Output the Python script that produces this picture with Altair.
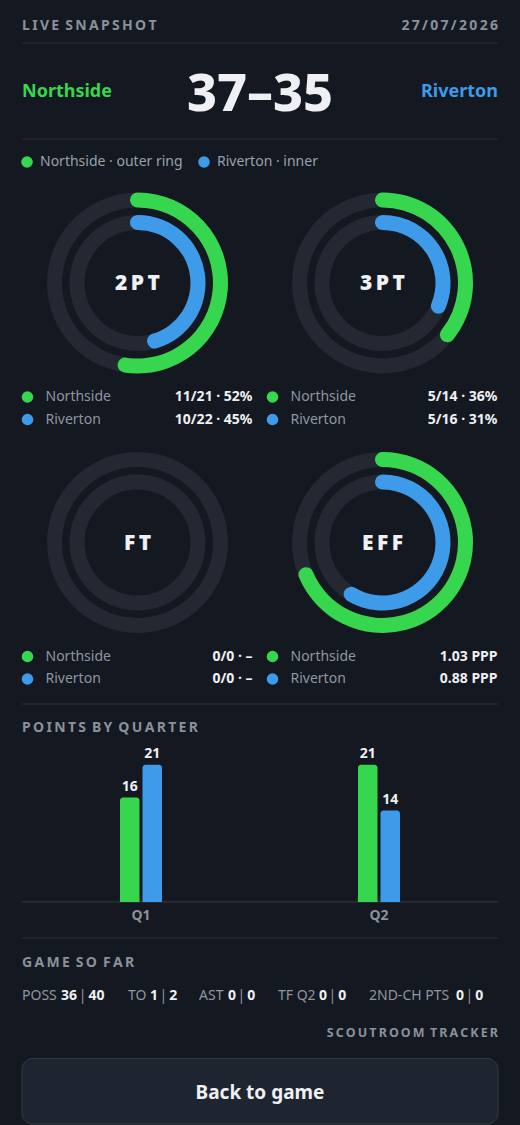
import math
import altair as alt
import pandas as pd

# ---------------- data ----------------
teams = ["Northside", "Riverton"]
home_score = 37
away_score = 35
snapshot_date = "27/07/2026"

panels = ["2PT", "3PT", "FT", "EFF"]
made_north = [11, 5, 0]
att_north = [21, 14, 0]
made_river = [10, 5, 0]
att_river = [22, 16, 0]
ppp_north = 1.03
ppp_river = 0.88
ppp_max = 1.5

quarters = ["Q1", "Q2"]
q_north = [16, 21]
q_river = [21, 14]

stat_labels = ["POSS", "TO", "AST", "TF Q2", "2ND-CH PTS"]
stat_north = [36, 1, 0, 0, 0]
stat_river = [40, 2, 0, 0, 0]

# ---------------- style ----------------
W, H = 520, 1125
BG = "#141820"
TRACK = "#232833"
GREEN = "#36d74f"
BLUE = "#3e9be9"
HEAD = "#8a919b"
GREY = "#8f96a0"
LEG = "#9aa1ab"
WHITE = "#eef0f3"
RULE = "#2a2f38"
BTN = "#1f2530"
BTN_STROKE = "#343a44"
FONT = "Noto Sans"
TS = "\u2009"  # thin space for letter spacing
DOT = 135


def spaced(s):
    return (" " + TS).join(TS.join(list(w)) for w in s.split(" "))


def px(f):
    return alt.X(f"{f}:Q", scale=alt.Scale(domain=[0, W], range=[0, W]), axis=None)


def py(f):
    return alt.Y(f"{f}:Q", scale=alt.Scale(domain=[0, H], range=[0, H]), axis=None)


def px2(f):
    return alt.X2(f"{f}:Q")


def py2(f):
    return alt.Y2(f"{f}:Q")


def txt(rows, size, weight="normal", align="left", dy=0):
    df = pd.DataFrame(rows, columns=["x", "y", "text", "color"])
    return alt.Chart(df).mark_text(
        align=align, baseline="middle", fontSize=size, fontWeight=weight,
        font=FONT, dy=dy
    ).encode(x=px("x"), y=py("y"), text="text:N",
             color=alt.Color("color:N", scale=None))


layers = []

# ---------------- header ----------------
L, R, C = 22, 498, 260
layers.append(txt([(L, 26, spaced("LIVE SNAPSHOT"), HEAD)], 14, "bold"))
layers.append(txt([(R, 26, spaced(snapshot_date), HEAD)], 14, "bold", align="right"))
layers.append(txt([(L, 92, teams[0], GREEN)], 18, "bold"))
layers.append(txt([(R, 92, teams[1], BLUE)], 18, "bold", align="right"))
layers.append(txt([(C, 95, f"{home_score}\u2013{away_score}", WHITE)], 52, 800, align="center"))

rules = pd.DataFrame({"y": [43, 139, 704, 938]})
rules["x"] = L
rules["x2"] = R
layers.append(alt.Chart(rules).mark_rule(color=RULE, strokeWidth=1).encode(
    x=px("x"), x2=px2("x2"), y=py("y")))

# legend
leg_dots = pd.DataFrame({"x": [27, 204], "y": [162, 162], "color": [GREEN, BLUE]})
layers.append(alt.Chart(leg_dots).mark_circle(size=DOT, opacity=1).encode(
    x=px("x"), y=py("y"), color=alt.Color("color:N", scale=None)))
layers.append(txt([(40, 162, f"{teams[0]} \u00b7 outer ring", LEG),
                   (217, 162, f"{teams[1]} \u00b7 inner", LEG)], 14))

# ---------------- rings ----------------
panel_left = [22, 267, 22, 267]
ring_cy = [283, 283, 542.5, 542.5]
OUT_R1, OUT_R0 = 90.5, 75.5
IN_R1, IN_R0 = 68, 53

fr_n = [m / a if a else 0 for m, a in zip(made_north, att_north)] + [ppp_north / ppp_max]
fr_r = [m / a if a else 0 for m, a in zip(made_river, att_river)] + [ppp_river / ppp_max]


def fmt(m, a):
    return f"{m}/{a} \u00b7 {round(100 * m / a)}%" if a else f"{m}/{a} \u00b7 \u2013"


val_n = [fmt(m, a) for m, a in zip(made_north, att_north)] + [f"{ppp_north:.2f} PPP"]
val_r = [fmt(m, a) for m, a in zip(made_river, att_river)] + [f"{ppp_river:.2f} PPP"]

track_rows = []
for i in range(4):
    track_rows.append((panel_left[i] + 115.5, ring_cy[i], 0, 2 * math.pi))
tracks = pd.DataFrame(track_rows, columns=["x", "y", "t0", "t1"])
for r1, r0 in [(OUT_R1, OUT_R0), (IN_R1, IN_R0)]:
    layers.append(alt.Chart(tracks).mark_arc(radius=r1, radius2=r0, color=TRACK).encode(
        x=px("x"), y=py("y"),
        theta=alt.Theta("t0:Q", scale=None, stack=None), theta2=alt.Theta2("t1:Q")))

for fr, r1, r0, col in [(fr_n, OUT_R1, OUT_R0, GREEN), (fr_r, IN_R1, IN_R0, BLUE)]:
    cap = ((r1 - r0) / 2) / ((r1 + r0) / 2)
    rows = []
    for i in range(4):
        if fr[i] > 0:
            rows.append((panel_left[i] + 115.5, ring_cy[i], -cap, fr[i] * 2 * math.pi + cap))
    df = pd.DataFrame(rows, columns=["x", "y", "t0", "t1"])
    layers.append(alt.Chart(df).mark_arc(radius=r1, radius2=r0, color=col,
                                         cornerRadius=(r1 - r0) / 2).encode(
        x=px("x"), y=py("y"),
        theta=alt.Theta("t0:Q", scale=None, stack=None), theta2=alt.Theta2("t1:Q")))

layers.append(txt([(panel_left[i] + 115.5, ring_cy[i] + 1, spaced(panels[i]), WHITE)
                   for i in range(4)], 21, 900, align="center"))

# per-panel legends
dots, names, vals = [], [], []
for i in range(4):
    for k, (col, nm, v) in enumerate([(GREEN, teams[0], val_n[i]), (BLUE, teams[1], val_r[i])]):
        yy = ring_cy[i] + 114 + k * 22.5
        dots.append((panel_left[i] + 5.5, yy, col))
        names.append((panel_left[i] + 23.5, yy, nm, GREY))
        vals.append((panel_left[i] + 230.5, yy, v, WHITE))
layers.append(alt.Chart(pd.DataFrame(dots, columns=["x", "y", "color"])).mark_circle(
    size=DOT, opacity=1).encode(x=px("x"), y=py("y"), color=alt.Color("color:N", scale=None)))
layers.append(txt(names, 14))
layers.append(txt(vals, 14, "bold", align="right"))

# ---------------- points by quarter ----------------
layers.append(txt([(L, 728, spaced("POINTS BY QUARTER"), HEAD)], 14, "bold"))
qdf = pd.DataFrame({
    "quarter": quarters * 2,
    "team": [teams[0]] * len(quarters) + [teams[1]] * len(quarters),
    "pts": q_north + q_river,
})
qscale = alt.Scale(domain=quarters, range=[22, 498], paddingInner=0.8235, paddingOuter=0.4118)
xq = alt.X("quarter:N", scale=qscale, axis=None)
yq = alt.Y("pts:Q", stack=None, scale=alt.Scale(domain=[0, 24.5], range=[902, 742]), axis=None)
bars = alt.Chart(qdf).mark_bar(cornerRadiusTopLeft=3, cornerRadiusTopRight=3).encode(
    x=xq,
    xOffset=alt.XOffset("team:N", scale=alt.Scale(type="band", domain=teams,
                                                  paddingInner=0.133, paddingOuter=0)),
    y=yq,
    color=alt.Color("team:N", scale=alt.Scale(domain=teams, range=[GREEN, BLUE]), legend=None))
bar_labels = alt.Chart(qdf).mark_text(baseline="middle", align="center", dy=-11, fontSize=14,
                                      fontWeight="bold", font=FONT, color=WHITE).encode(
    x=alt.X("quarter:N", scale=qscale, axis=None, bandPosition=0),
    xOffset=alt.XOffset("team:N", scale=alt.Scale(type="point", domain=teams, padding=0.4333)),
    y=yq, text="pts:N")
layers.append(alt.Chart(pd.DataFrame({"x": [L], "x2": [R], "y": [902]})).mark_rule(
    color=RULE, strokeWidth=1.5).encode(x=px("x"), x2=px2("x2"), y=py("y")))
layers.append(bars)
layers.append(bar_labels)
qlab = pd.DataFrame({"quarter": quarters, "y": [916] * len(quarters)})
layers.append(alt.Chart(qlab).mark_text(baseline="middle", fontSize=14, fontWeight="bold",
                                        font=FONT, color=HEAD).encode(
    x=alt.X("quarter:N", scale=qscale, axis=None),
    y=py("y"), text="quarter:N"))

# ---------------- game so far ----------------
layers.append(txt([(L, 963, spaced("GAME SO FAR"), HEAD)], 14, "bold"))
group_x = [22, 128, 199, 278, 369]
value_x = [61, 150, 228, 319, 456]
DIG = 8.2
lab_rows, bold_rows, sep_rows = [], [], []
for i, lab in enumerate(stat_labels):
    lab_rows.append((group_x[i], 996, lab, GREY))
    v1 = str(stat_north[i])
    v2 = str(stat_river[i])
    bold_rows.append((value_x[i], 996, v1, WHITE))
    end1 = value_x[i] + len(v1) * DIG
    sep_rows.append((end1 + 5.2, 996, "|", GREY))
    bold_rows.append((end1 + 11, 996, v2, WHITE))
layers.append(txt(lab_rows, 14))
layers.append(txt(sep_rows, 14, align="center"))
layers.append(txt(bold_rows, 14, "bold"))

layers.append(txt([(R, 1033, spaced("SCOUTROOM TRACKER"), HEAD)], 12.5, "bold", align="right"))

btn = pd.DataFrame({"x": [L], "x2": [R], "y": [1058.5], "y2": [1124]})
layers.append(alt.Chart(btn).mark_rect(fill=BTN, stroke=BTN_STROKE, strokeWidth=1,
                                       cornerRadius=11).encode(
    x=px("x"), x2=px2("x2"), y=py("y"), y2=py2("y2")))
layers.append(txt([(C, 1093, "Back to game", WHITE)], 19, "bold", align="center"))

chart = alt.layer(*layers).resolve_scale(
    x="independent", y="independent", xOffset="independent", color="independent"
).properties(width=W, height=H, background=BG, padding=0).configure_view(stroke=None)

chart.save("out.html", embed_options={"renderer": "svg", "actions": False})
